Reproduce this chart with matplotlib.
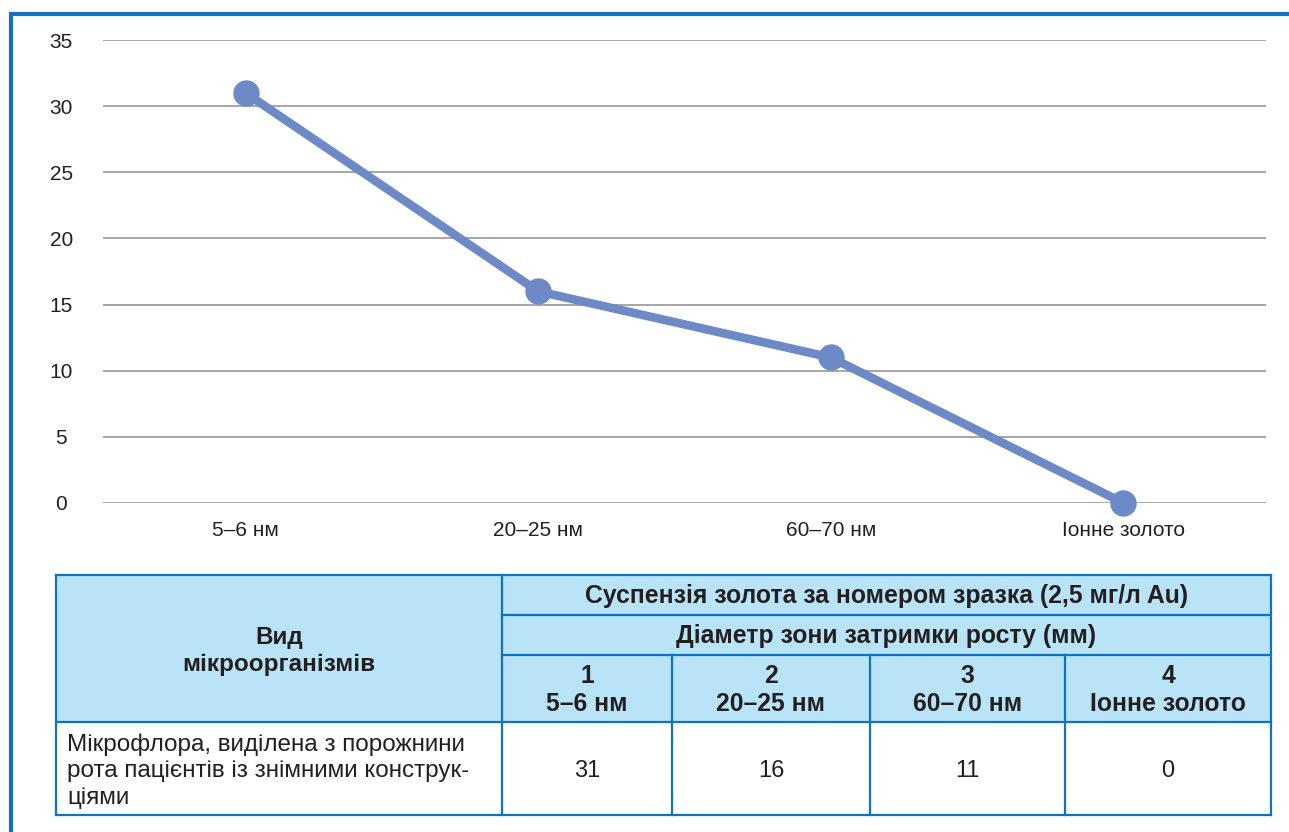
import matplotlib.pyplot as plt
from matplotlib.patches import Rectangle

# data
categories = ['5–6 нм', '20–25 нм', '60–70 нм', 'Іонне золото']
values = [31, 16, 11, 0]
sample_ids = ['1', '2', '3', '4']
row_label = 'Мікрофлора, виділена з порожнини\nрота пацієнтів із знімними конструк-\nціями'
head_left = 'Вид\nмікроорганізмів'
head_top = 'Суспензія золота за номером зразка (2,5 мг/л Au)'
head_mid = 'Діаметр зони затримки росту (мм)'
yticks = [0, 5, 10, 15, 20, 25, 30, 35]

W, H = 1289, 832
BLUE = '#1072c0'
FILL = '#b9e4f8'
TXT = '#231f20'
LINE = '#6d8ac7'
plt.rcParams['font.family'] = ['Liberation Sans', 'DejaVu Sans']

fig = plt.figure(figsize=(W / 100, H / 100), dpi=100)

# chart
ax = fig.add_axes([103 / W, 1 - 503 / H, (1266 - 103) / W, (503 - 40) / H])
x = list(range(len(categories)))
ax.plot(x, values, color=LINE, lw=6.2, marker='o', ms=18, zorder=3, clip_on=False)
ax.set_xlim(-0.487, 3.487)
ax.set_ylim(0, 35)
ax.set_yticks(yticks)
ax.set_xticks(x)
ax.set_xticklabels(categories)
ax.grid(axis='y', color='#a6a6a6', lw=1.4)
ax.set_axisbelow(True)
for s in ax.spines.values():
    s.set_visible(False)
ax.tick_params(length=0, labelsize=15, colors=TXT)
ax.tick_params(axis='y', pad=30)
ax.tick_params(axis='x', pad=13)
for lab in ax.get_yticklabels():
    lab.set_horizontalalignment('center')

# overlay for frame and table, in pixel coordinates
ov = fig.add_axes([0, 0, 1, 1], zorder=-1)
ov.set_xlim(0, W)
ov.set_ylim(H, 0)
ov.axis('off')
ov.plot([11.3, 11.3], [12, H], color=BLUE, lw=3, solid_capstyle='butt')
ov.plot([9.3, W], [13.8, 13.8], color=BLUE, lw=3, solid_capstyle='butt')

cols = [56, 502, 672, 870, 1065, 1271]
rows = [575, 615, 655, 722, 815]

ov.add_patch(Rectangle((cols[0], rows[0]), cols[-1] - cols[0], rows[3] - rows[0],
                       facecolor=FILL, edgecolor='none'))
lw = 1.6
# horizontal lines
ov.plot([cols[0], cols[-1]], [rows[0], rows[0]], color=BLUE, lw=lw)
ov.plot([cols[1], cols[-1]], [rows[1], rows[1]], color=BLUE, lw=lw)
ov.plot([cols[1], cols[-1]], [rows[2], rows[2]], color=BLUE, lw=lw)
ov.plot([cols[0], cols[-1]], [rows[3], rows[3]], color=BLUE, lw=lw)
ov.plot([cols[0], cols[-1]], [rows[4], rows[4]], color=BLUE, lw=lw)
# vertical lines
ov.plot([cols[0], cols[0]], [rows[0], rows[4]], color=BLUE, lw=lw)
ov.plot([cols[1], cols[1]], [rows[0], rows[4]], color=BLUE, lw=lw)
for c in cols[2:5]:
    ov.plot([c, c], [rows[2], rows[4]], color=BLUE, lw=lw)
ov.plot([cols[-1], cols[-1]], [rows[0], rows[4]], color=BLUE, lw=lw)

ov.text((cols[0] + cols[1]) / 2, 651, head_left, ha='center', va='center',
        fontsize=17.5, fontweight='bold', color=TXT, linespacing=1.27)
mid = (cols[1] + cols[-1]) / 2
ov.text(mid, 596, head_top, ha='center', va='center', fontsize=17.8,
        fontweight='bold', color=TXT)
ov.text(mid, 636, head_mid, ha='center', va='center', fontsize=17.8,
        fontweight='bold', color=TXT)
for i in range(4):
    cx = (cols[i + 1] + cols[i + 2]) / 2
    ov.text(cx, 690, sample_ids[i] + '\n' + categories[i], ha='center', va='center',
            fontsize=17.8, fontweight='bold', color=TXT, linespacing=1.22)
    ov.text(cx, 771, str(values[i]), ha='center', va='center', fontsize=17,
            color=TXT)
ov.text(67, 771, row_label, ha='left', va='center', fontsize=17.5, color=TXT,
        linespacing=1.27)

fig.savefig('out.png', dpi=100)
